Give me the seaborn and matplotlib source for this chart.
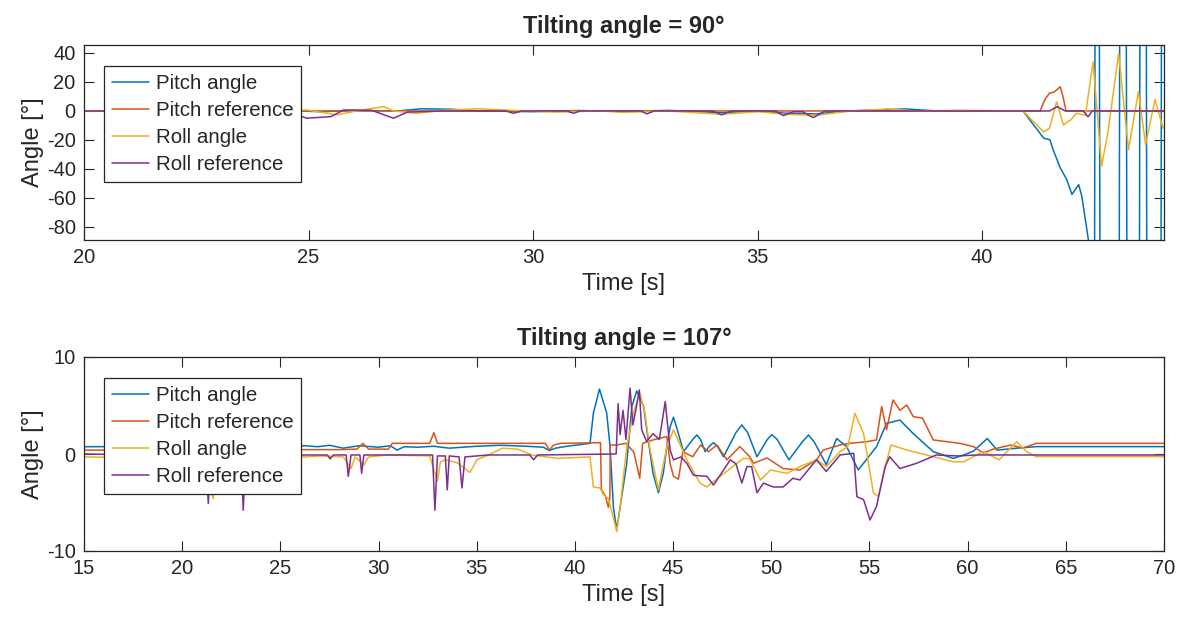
import numpy as np
import pandas as pd
import seaborn as sns
import matplotlib
matplotlib.use("Agg")
import matplotlib.pyplot as plt

# ---- top panel: tilting angle = 90 deg ----
t90_pitch = [20, 24.7, 25.3, 26.0, 27.0, 27.5, 28.2, 28.8, 30.0, 31.0, 32.0, 33.0, 34.2, 35.0,
             35.6, 36.3, 37.0, 38.3, 39.0, 40.0, 40.91, 41.37, 41.51, 41.58, 41.74, 41.88, 42.0,
             42.15, 42.22, 42.37, 42.5, 42.52, 42.6, 42.63, 43.05, 43.07, 43.2, 43.23, 43.5,
             43.52, 43.65, 43.67, 43.98, 44.0, 44.1]
v90_pitch = [0, 0, -0.5, 0.3, 0, 1.5, 1.2, 0, -0.5, 0.3, -0.3, 0.4, -1.2, 0,
             -1.5, -2.0, 0, 1.4, 0, 0.2, 0, -18.7, -19.9, -26.7, -39.3, -47.0, -57.6,
             -50.8, -58.8, -89.7, -175, 175, 170, -170, -175, 175, 170, -170, -175,
             175, 170, -170, -175, 175, 170]

t90_pref = [20, 41.29, 41.4, 41.5, 41.6, 41.74, 41.8, 41.87, 44.1]
v90_pref = [0, 0, 8.0, 12.3, 13.0, 16.7, 10.0, 0, 0]

t90_roll = [20, 24.7, 24.96, 25.63, 26.06, 26.67, 26.9, 27.4, 28.0, 28.8, 29.5, 30.5, 31.5,
            32.0, 33.0, 34.2, 35.0, 35.6, 36.3, 37.0, 37.9, 38.5, 39.5, 40.5, 40.91, 41.37,
            41.5, 41.66, 41.81, 41.98, 42.1, 42.3, 42.47, 42.66, 42.8, 43.04, 43.26, 43.48,
            43.64, 43.85, 44.03]
v90_roll = [0, 0.3, 0.7, -2.7, 0, 3.0, 0, -1.6, 0.5, 1.5, 0.5, -0.8, 0,
            -1.0, 0, -2.3, -0.5, -2.3, -3.0, -0.3, 1.4, 0, 0.5, 0, 0, -14.4,
            -12.0, 6.4, -9.6, -6.0, -1.6, -3.0, 33.8, -38.0, -15.0, 39.6, -26.7, 13.3,
            -23.3, 8.0, -11.9]

t90_rref = [20, 24.5, 24.96, 25.5, 25.78, 26.4, 26.89, 27.2, 28.0, 29.4, 29.56, 29.75, 30.75,
            30.9, 31.05, 32.4, 32.53, 32.7, 34.0, 34.2, 34.4, 35.4, 35.57, 35.8, 36.0, 36.24,
            36.5, 41.5, 41.67, 41.85, 42.25, 42.36, 42.45, 44.1]
v90_rref = [0, 0, -5.0, -3.9, 0.7, 0.5, -5.0, -0.8, 0, 0, -1.6, 0, 0,
            -1.6, 0, 0, -2.0, 0, 0, -2.7, 0, 0, -3.2, -0.5, -0.5, -4.6,
            0, 0, 3.0, 0, 0, -4.0, 0, 0]

# ---- bottom panel: tilting angle = 107 deg ----
t107_pitch = [15, 26.3, 26.9, 27.5, 28.2, 29.0, 30.0, 30.6, 30.95, 31.3, 32.0, 32.8, 33.6, 35.0,
              36.2, 37.5, 38.4, 38.7, 39.0, 39.6, 40.77, 40.94, 41.25, 41.62, 41.79, 41.96, 42.13,
              42.3, 42.64, 42.9, 43.15, 43.5, 43.66, 43.98, 44.25, 44.5, 44.68, 44.85, 45.02, 45.2,
              45.53, 46.0, 46.21, 46.4, 46.63, 46.9, 47.06, 47.25, 47.57, 48.2, 48.5, 48.8,
              49.27, 49.8, 50.03, 50.3, 50.9, 51.6, 51.9, 52.2, 52.8, 53.33, 53.84, 54.43,
              55.36, 55.87, 56.55, 57.23, 58.25, 59.27,
              59.8, 60.3, 61.0, 61.5, 62.5, 63.5, 70]
v107_pitch = [0.75, 0.85, 0.75, 0.9, 0.6, 0.85, 0.7, 0.85, 0.4, 0.75, 0.7, 0.8, 0.6, 0.8,
              0.9, 0.8, 0.7, 0.35, 0.6, 0.8, 1.1, 4.2, 6.7, 4.2, 0.76, -5.5, -7.8,
              -5.5, -0.96, 4.9, 6.5, 4.9, 2.5, -2.0, -4.0, -2.0, 0.76, 2.8, 3.8, 2.6,
              0.24, 1.5, 1.96, 1.5, 0.24, 0.9, 1.17, 0.8, -0.28, 2.2, 3.0, 2.2,
              -0.28, 1.5, 2.0, 1.5, -0.6, 1.3, 1.96, 1.2, -1.1, 1.6, 0.76, -1.65,
              0.76, 3.16, 3.5, 2.1, 0.24, -0.45,
              -0.1, 0.3, 1.6, 0.4, 0.6, 0.76, 0.76]

t107_pref = [15, 26.3, 28.0, 28.9, 29.2, 29.5, 30.5, 30.7, 32.6, 32.82, 33.0, 38.5, 38.7, 38.9,
             39.24, 41.3, 41.35, 41.55, 41.7, 41.78, 41.8, 42.13, 42.6, 43.0, 43.3, 43.45,
             43.98, 44.68, 44.85, 45.02, 45.27, 45.5, 46.0, 46.4, 46.8, 47.23, 47.74, 48.4,
             48.9, 49.1, 49.78, 50.6, 51.46, 52.3, 52.65, 53.5, 54.0, 54.86, 55.36, 55.62,
             55.87, 56.2, 56.55, 56.9, 57.23, 57.7, 58.25, 59.6, 60.3, 60.8, 61.3, 62.2,
             62.8, 63.5, 70]
v107_pref = [0.4, 0.45, 0.45, 0.5, 1.1, 0.5, 0.5, 1.1, 1.1, 2.2, 1.1, 1.1, 0.4, 0.9,
             1.1, 1.17, -3.7, -4.3, -5.5, -4.5, 0.93, 0.93, 1.1, 0.2, -2.5, 1.1,
             1.45, 1.8, -1.0, -2.3, -2.6, 0.24, -0.28, 0.93, 0.24, 0.93, -0.6, 0.76,
             -0.28, -0.96, -0.4, -1.5, -1.65, -0.6, 0.41, 0.93, 1.1, 1.27, 1.45, 4.9,
             2.5, 5.57, 4.5, 5.05, 3.85, 3.7, 1.45, 1.1, 0.76, 0.1, 0.5, 0.93,
             0.6, 1.1, 1.1]

t107_roll = [15, 21.3, 21.45, 21.59, 21.7, 26.3, 27.0, 28.2, 28.6, 28.8, 29.26, 29.5, 30.5,
             32.6, 33.0, 33.15, 33.4, 34.0, 34.66, 35.0, 35.6, 36.3, 37.1, 37.8, 39.1, 40.77,
             40.94, 41.28, 41.45, 41.7, 41.95, 42.13, 42.3, 42.64, 42.98, 43.3, 43.57, 43.8,
             44.25, 44.68, 45.02, 45.7,
             46.37, 46.72, 47.4, 48.25, 48.6, 48.9, 49.45, 49.96, 50.8, 51.46, 52.3, 52.8,
             53.5, 53.9, 54.26, 54.7, 55.2, 55.45, 55.8, 56.1, 56.9, 57.9, 59.27, 59.8,
             60.8, 61.6, 62.5, 63.0, 63.5, 70]
v107_roll = [-0.3, -0.5, -4.0, -4.6, -0.5, -0.3, -0.2, -0.3, -1.5, -0.3, -1.1, -0.3, -0.1,
             -0.2, -2.8, -0.8, -0.6, -0.9, -1.9, -0.6, -0.1, 0.6, 0.5, -0.1, -0.45, -0.3,
             -3.4, -3.5, -4.2, -4.6, -6.5, -8.0, -5.5, 0.76, 4.2, 6.3, 4.2, 0.76,
             -3.7, 0.76, 2.5, -0.6,
             -3.0, -3.4, -2.3, -0.96, -0.45, -0.5, -2.68, -1.65, -2.0, -1.3, -0.6, -1.3,
             0.24, 0.76, 4.2, 2.1, -4.0, -4.4, -1.3, 0.93, 0.41, -0.1, -0.8, -0.8,
             0.24, -0.6, 1.27, 0.24, -0.27, -0.27]

t107_rref = [15, 21.2, 21.33, 21.45, 23.0, 23.11, 23.22, 26.3, 27.4, 27.53, 27.7, 28.35, 28.46,
             28.6, 29.05, 29.14, 29.25, 32.75, 32.87, 33.0, 33.4, 33.5, 33.6, 34.1, 34.25,
             34.4, 35.6, 37.7, 37.9, 38.1, 42.1, 42.2, 42.3, 42.45, 42.6, 42.81, 42.95, 43.1,
             43.28, 43.4, 43.65, 43.98, 44.3, 44.6, 44.85, 45.02, 45.4, 45.7, 46.04, 46.72,
             47.06, 47.57, 47.91, 48.2, 48.5, 48.76, 49.0, 49.27, 49.6, 50.1, 50.6, 51.1,
             51.46, 52.3, 52.8, 53.5, 54.2, 54.36, 54.7, 55.03, 55.36, 55.8, 56.03, 56.55,
             57.4, 58.4, 59.5, 60.5, 70]
v107_rref = [0.0, -0.2, -5.1, -0.3, -0.2, -5.8, -0.2, -0.1, -0.1, -0.5, -0.1, -0.1, -2.3,
             -0.1, -0.1, -2.0, -0.1, -0.1, -5.8, -0.2, -0.2, -3.7, -0.2, -0.3, -3.5,
             -0.3, -0.1, -0.1, -0.6, -0.1, 0.0, 5.2, 2.0, 4.5, 1.5, 6.8, 3.0, 4.5,
             6.6, 2.5, 1.3, 2.1, 1.5, 5.4, 0.4, -0.6, -0.3, -0.96, -2.2, -2.3,
             -3.2, -1.65, -0.6, -1.0, -3.0, -1.3, -1.3, -4.0, -3.0, -3.4, -3.4, -2.5,
             -2.68, -0.6, -1.8, -0.1, 0.07, -4.4, -4.7, -6.8, -5.4, -1.3, -0.28, -1.5,
             -0.96, -0.1, -0.2, -0.1, -0.1]

labels = ["Pitch angle", "Pitch reference", "Roll angle", "Roll reference"]
colors = ["#0072BD", "#D95319", "#EDB120", "#7E2F8E"]

sns.set_theme(style="ticks")
plt.rcParams['font.family'] = ['Liberation Sans', 'DejaVu Sans']
plt.rcParams['axes.unicode_minus'] = False
plt.rcParams['axes.edgecolor'] = '#262626'
plt.rcParams['xtick.color'] = '#262626'
plt.rcParams['ytick.color'] = '#262626'
plt.rcParams['text.color'] = '#262626'
plt.rcParams['axes.labelcolor'] = '#262626'

fig = plt.figure(figsize=(11.87, 6.25), dpi=100)
ax1 = fig.add_axes([84 / 1187, 1 - 240 / 625, 1080 / 1187, 195 / 625])
ax2 = fig.add_axes([84 / 1187, 1 - 551 / 625, 1080 / 1187, 194 / 625])

panels = [
    (ax1, [(t90_pitch, v90_pitch), (t90_pref, v90_pref), (t90_roll, v90_roll), (t90_rref, v90_rref)],
     "Tilting angle = 90°", (20, 44.05), (-89, 45.5), np.arange(20, 41, 5), np.arange(-80, 41, 20)),
    (ax2, [(t107_pitch, v107_pitch), (t107_pref, v107_pref), (t107_roll, v107_roll), (t107_rref, v107_rref)],
     "Tilting angle = 107°", (15, 70), (-10, 10), np.arange(15, 71, 5), [-10, 0, 10]),
]

for ax, series, title, xlim, ylim, xt, yt in panels:
    for (t, v), lab, col in zip(series, labels, colors):
        sns.lineplot(x=t, y=v, ax=ax, color=col, label=lab, linewidth=1.1,
                     estimator=None, sort=False)
    ax.set_xlim(*xlim)
    ax.set_ylim(*ylim)
    ax.set_xticks(xt)
    ax.set_yticks(yt)
    ax.tick_params(direction='in', length=7, width=0.8, labelsize=14.5,
                   top=True, right=True, pad=6)
    for s in ax.spines.values():
        s.set_linewidth(0.9)
        s.set_visible(True)
    ax.set_title(title, fontsize=17, fontweight='bold', pad=9)
    ax.set_xlabel("Time [s]", fontsize=17, labelpad=4)
    ax.set_ylabel("Angle [°]", fontsize=17, labelpad=2)
    leg = ax.legend(loc='upper left', bbox_to_anchor=(20 / 1080, 1 - 21 / 195), borderaxespad=0,
                    fontsize=14.8, frameon=True, fancybox=False, framealpha=1,
                    edgecolor='#262626', handlelength=1.8, handletextpad=0.35,
                    labelspacing=0.4, borderpad=0.38)
    leg.get_frame().set_linewidth(0.9)

fig.savefig("out.png", dpi=100)
